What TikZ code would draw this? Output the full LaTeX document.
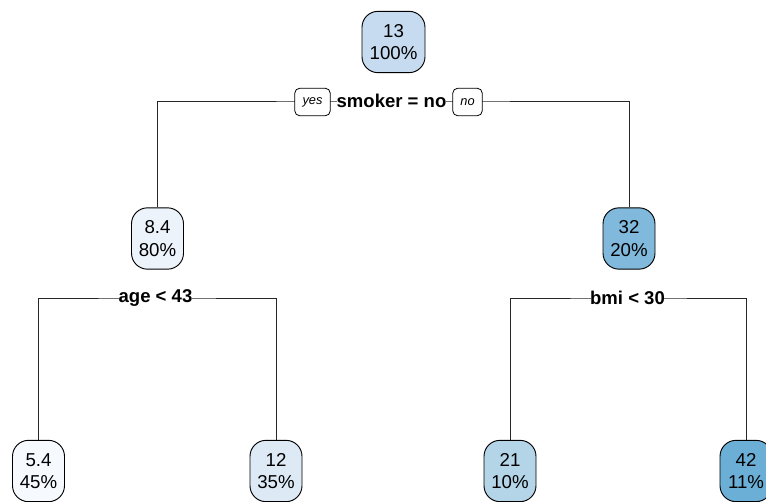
\documentclass[tikz,border=0pt]{standalone}
\usepackage{fontspec}
\setmainfont{Liberation Sans}
\begin{document}
\begin{tikzpicture}[x=0.75pt,y=-0.75pt,
  leaf/.style={draw=black,line width=0.7pt,rounded corners=12pt,minimum width=39pt,
    minimum height=46pt,align=center,inner sep=1pt,
    font=\fontsize{14}{17}\selectfont},
  splittext/.style={fill=white,inner xsep=-0.6pt,inner ysep=0.3pt,
    font=\fontsize{13.9}{16}\selectfont\bfseries},
  yesno/.style={draw=black,line width=0.6pt,fill=white,rounded corners=3.5pt,
    minimum height=20.5pt,inner sep=2pt,font=\fontsize{9.6}{11}\selectfont\itshape},
  branch/.style={line width=0.7pt,draw=black!85}]
\useasboundingbox (0,0) rectangle (766,502);
\clip (0,0) rectangle (766,502);
% colours of the fitted values
\definecolor{cA}{RGB}{198,219,239}
\definecolor{cB}{RGB}{236,243,251}
\definecolor{cC}{RGB}{128,185,220}
\definecolor{cD}{RGB}{246,250,255}
\definecolor{cE}{RGB}{221,234,246}
\definecolor{cF}{RGB}{180,212,232}
\definecolor{cG}{RGB}{107,174,214}
% tree nodes
\node[leaf,fill=cA,minimum width=47.25pt] (root) at (393.5,42) {13\\100\%};
\node[leaf,fill=cB] (n84) at (157.5,238.5) {8.4\\80\%};
\node[leaf,fill=cC] (n32) at (629,238.5) {32\\20\%};
\node[leaf,fill=cD] (n54) at (38.5,471) {5.4\\45\%};
\node[leaf,fill=cE] (n12) at (276,471) {12\\35\%};
\node[leaf,fill=cF] (n21) at (510,471) {21\\10\%};
\node[leaf,fill=cG] (n42) at (746,471) {42\\11\%};
% split lines
\coordinate (s1) at (393,101);
\coordinate (s2) at (157,298);
\coordinate (s3) at (629,298);
\draw[branch] (n84.north) |- (s1) -| (n32.north);
\draw[branch] (n54.north) |- (s2) -| (n12.north);
\draw[branch] (n21.north) |- (s3) -| (n42.north);
% split labels
\node[splittext] (l1) at (391.5,101) {smoker = no};
\node[yesno,minimum width=26.5pt] (yes) at (312.5,102) {yes};
\node[yesno,minimum width=22pt] (no) at (467.5,102) {no};
\node[splittext] (l2) at (155.5,298) {age < 43};
\node[splittext] (l3) at (627.5,298) {bmi < 30};
\end{tikzpicture}
\end{document}
